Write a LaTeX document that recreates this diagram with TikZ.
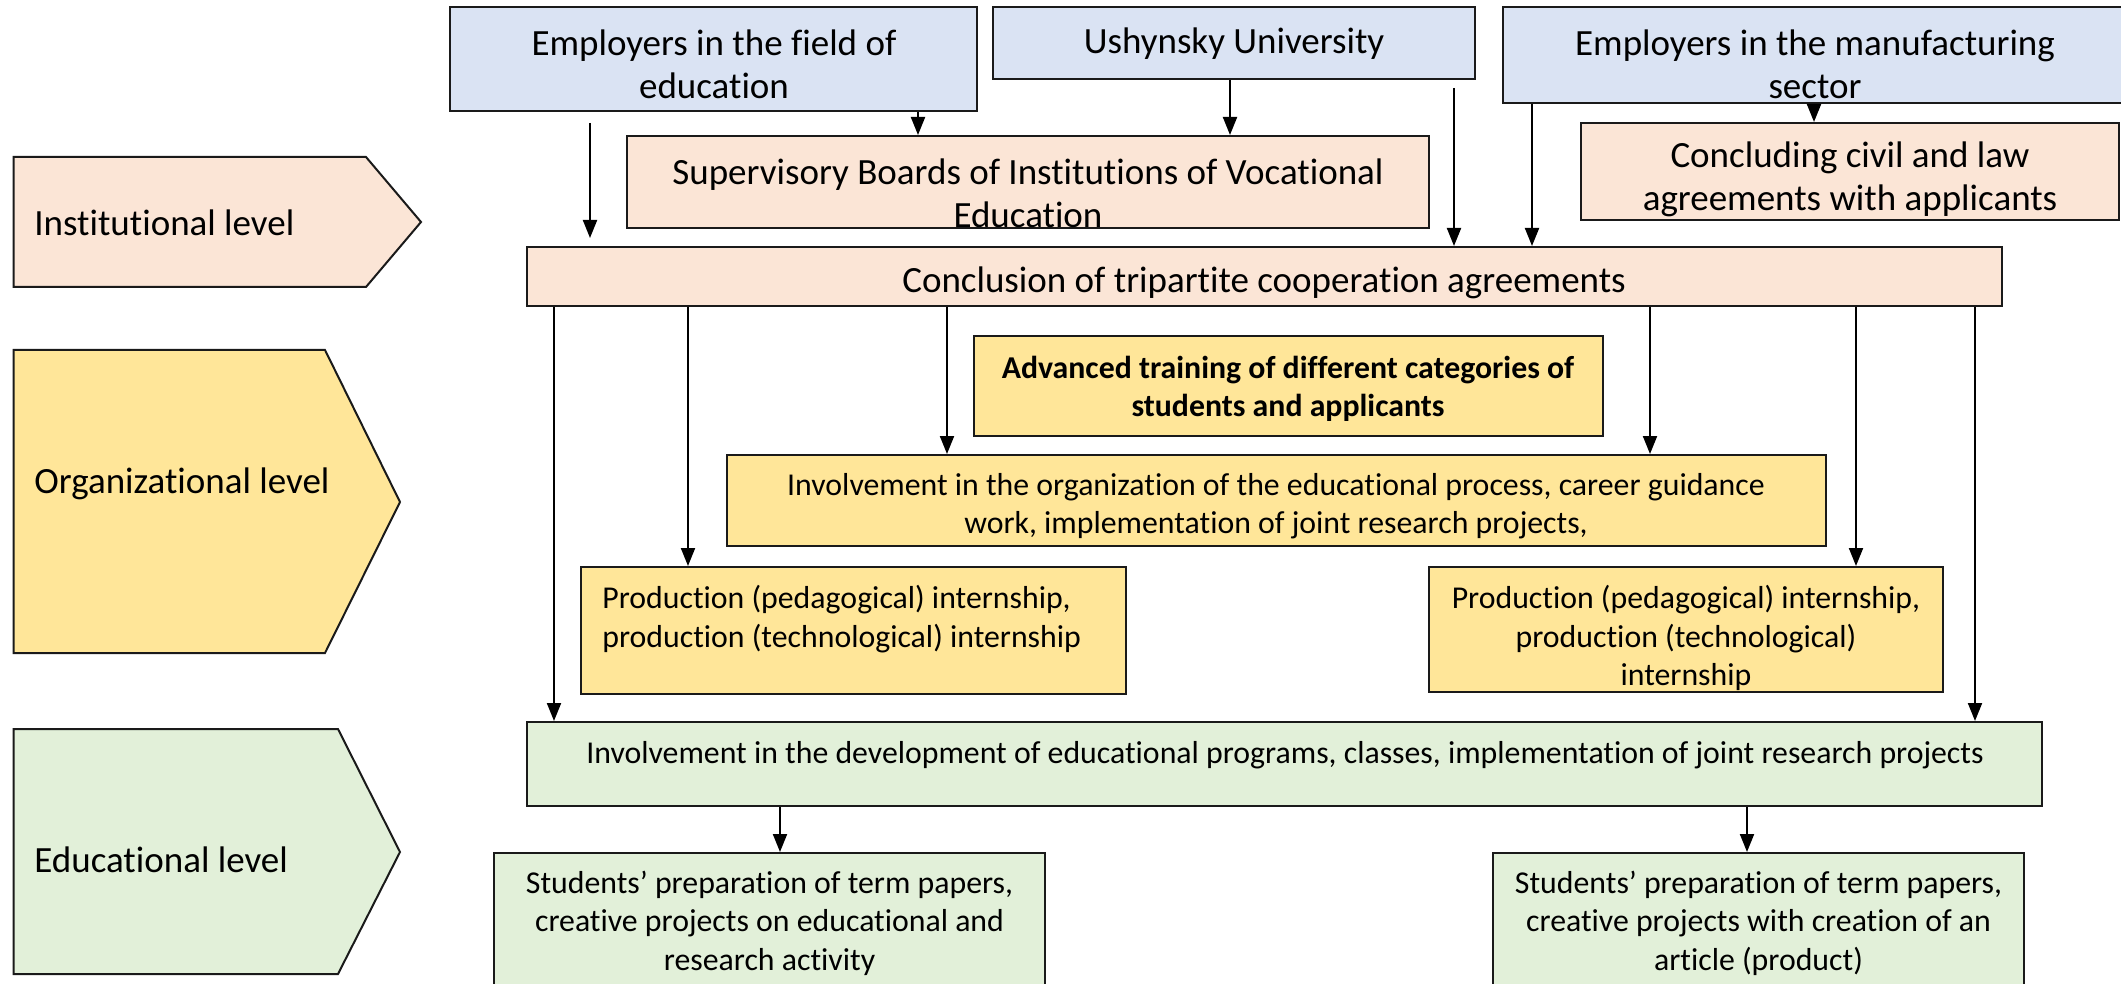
\documentclass[tikz,border=0pt]{standalone}
\usepackage{fontspec}
\setmainfont[Ligatures=NoCommon]{Carlito}
\usetikzlibrary{arrows.meta,fit}
\definecolor{cblue}{HTML}{DAE3F3}
\definecolor{cpeach}{HTML}{FBE5D6}
\definecolor{cyel}{HTML}{FFE699}
\definecolor{cgreen}{HTML}{E2F0D9}
\definecolor{cline}{HTML}{1A1A1A}
\begin{document}
\begin{tikzpicture}[x=0.5pt,y=-0.5pt,
  box/.style={draw=cline, line width=1pt, inner sep=0pt},
  big/.style={inner sep=0pt, align=center, font=\fontsize{18.5}{21.6}\selectfont},
  med/.style={inner sep=0pt, align=center, font=\fontsize{15.9}{19.2}\selectfont},
  arr/.style={draw=black, line width=1pt, -{Triangle[length=9pt,width=7pt]}},
  lvl/.style={draw=cline, line width=1pt}]
\useasboundingbox (0,0) rectangle (2121,984);

% level arrows
\path[lvl, fill=cpeach] (13.5,157) -- (366,157) -- (421,222) -- (366,287) -- (13.5,287) -- cycle;
\path[lvl, fill=cyel] (13.5,350) -- (325,350) -- (400,502) -- (325,653) -- (13.5,653) -- cycle;
\path[lvl, fill=cgreen] (13.5,729) -- (338,729) -- (400,852) -- (338,974) -- (13.5,974) -- cycle;
\node[big, anchor=west] (linst) at (34,223) {Institutional level};
\node[big, anchor=west] (lorg) at (34,484) {Organizational level};
\node[big, anchor=west] (ledu) at (34,860) {Educational level};

% boxes
\node[box, fill=cblue, fit={(450,7) (977,111)}] (empedu) {};
\node[box, fill=cblue, fit={(993,7) (1475,79)}] (ushyn) {};
\node[box, fill=cblue, fit={(1503,7) (2132,103)}] (manuf) {};
\node[box, fill=cpeach, fit={(627,136) (1429,228)}] (superv) {};
\node[box, fill=cpeach, fit={(1581,123) (2119,220)}] (civil) {};
\node[box, fill=cpeach, fit={(527,247) (2002,306)}] (conc) {};
\node[box, fill=cyel, fit={(974,336) (1603,436)}] (adv) {};
\node[box, fill=cyel, fit={(727,455) (1826,546)}] (invorg) {};
\node[box, fill=cyel, fit={(581,567) (1126,694)}] (prodL) {};
\node[box, fill=cyel, fit={(1429,567) (1943,692)}] (prodR) {};
\node[box, fill=cgreen, fit={(527,722) (2042,806)}] (invdev) {};
\node[box, fill=cgreen, fit={(494,853) (1045,1010)}] (studL) {};
\node[box, fill=cgreen, fit={(1493,853) (2024,1010)}] (studR) {};

% texts
\node[big] (tempedu) at (714,64) {Employers in the field of\\education};
\node[big] (tushyn) at (1234,44) {Ushynsky University};
\node[big] (tmanuf) at (1815,64) {Employers in the manufacturing\\sector};
\node[big] (tsuperv) at (1028,193) {Supervisory Boards of Institutions of Vocational\\Education};
\node[big] (tcivil) at (1850,179) {Concluding civil and law\\agreements with applicants};
\node[big] (tconc) at (1264,283) {Conclusion of tripartite cooperation agreements};
\node[med, font=\fontsize{15.9}{19.2}\selectfont\bfseries] (tadv) at (1288,389) {Advanced training of different categories of\\students and applicants};
\node[med] (tinvorg) at (1276,506) {Involvement in the organization of the educational process, career guidance\\work, implementation of joint research projects,};
\node[med, align=left, anchor=west] (tprodL) at (602,619) {Production (pedagogical) internship,\\production (technological) internship};
\node[med] (tprodR) at (1686,638) {Production (pedagogical) internship,\\production (technological)\\internship};
\node[med] (tinvdev) at (1285,755) {Involvement in the development of educational programs, classes, implementation of joint research projects};
\node[med] (tstudL) at (769.5,923) {Students’ preparation of term papers,\\creative projects on educational and\\research activity};
\node[med] (tstudR) at (1758.5,923) {Students’ preparation of term papers,\\creative projects with creation of an\\article (product)};

% column coordinates
\foreach \c in {554,590,688,780,918,947,1230,1454,1532,1650,1747,1814,1856,1975}
  \coordinate (c\c) at (\c,0);
\coordinate (f1s) at (590,123);
\coordinate (f1e) at (590,238);
\coordinate (f2s) at (1454,88);

% connectors
\draw[arr] (f1s) -- (f1e);
\draw[arr] (empedu.south -| c918) -- (superv.north -| c918);
\draw[arr] (ushyn.south -| c1230) -- (superv.north -| c1230);
\draw[arr] (f2s) -- (conc.north -| c1454);
\draw[arr] (manuf.south -| c1532) -- (conc.north -| c1532);
\draw[arr] (manuf.south -| c1814) -- (civil.north -| c1814);
\draw[arr] (conc.south -| c554) -- (invdev.north -| c554);
\draw[arr] (conc.south -| c688) -- (prodL.north -| c688);
\draw[arr] (conc.south -| c947) -- (invorg.north -| c947);
\draw[arr] (conc.south -| c1650) -- (invorg.north -| c1650);
\draw[arr] (conc.south -| c1856) -- (prodR.north -| c1856);
\draw[arr] (conc.south -| c1975) -- (invdev.north -| c1975);
\draw[arr] (invdev.south -| c780) -- (studL.north -| c780);
\draw[arr] (invdev.south -| c1747) -- (studR.north -| c1747);
\end{tikzpicture}
\end{document}
